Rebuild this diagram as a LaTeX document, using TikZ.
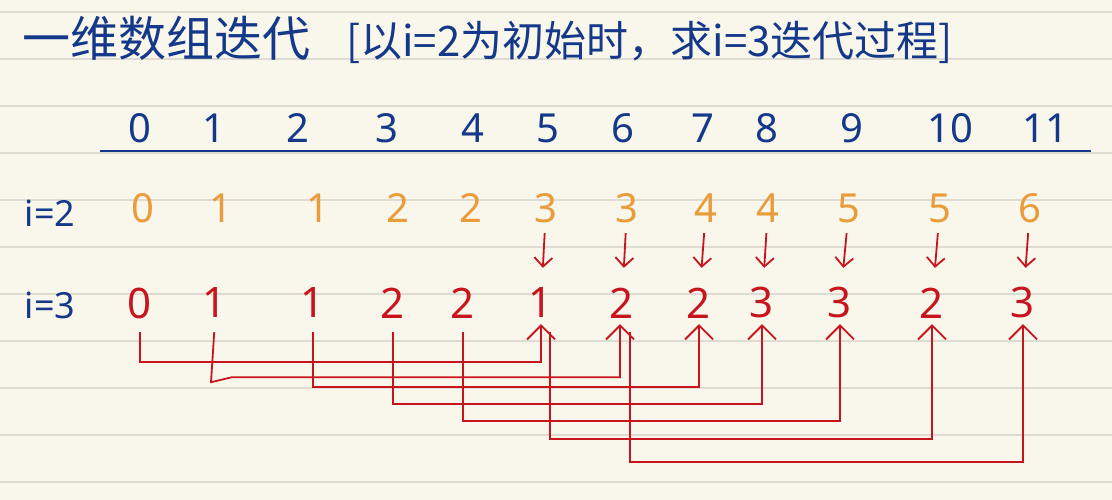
\documentclass[tikz,border=0pt]{standalone}
\usepackage{fontspec}
\setmainfont{Noto Sans}
\newfontfamily\cjk{Noto Sans CJK SC}
\usetikzlibrary{arrows.meta}
\definecolor{paper}{HTML}{F9F7EC}
\definecolor{ruling}{HTML}{DDDBD2}
\definecolor{ink}{HTML}{14398A}
\definecolor{amber}{HTML}{EA9B3A}
\definecolor{crimson}{HTML}{C8141C}
\begin{document}
\begin{tikzpicture}[x=1pt, y=-1pt,
  idx/.style={text=ink, font=\fontsize{40}{40}\selectfont, inner sep=0pt, minimum height=34pt},
  old/.style={text=amber, font=\fontsize{40}{40}\selectfont, inner sep=0pt, minimum height=34pt},
  new/.style={text=crimson, font=\fontsize{42}{42}\selectfont, inner sep=0pt, minimum height=34pt},
  rowlabel/.style={text=ink, font=\fontsize{36}{36}\selectfont, inner sep=0pt},
  down/.style={draw=crimson, line width=1.8pt, -{Straight Barb[length=9pt,width=18pt]}, shorten <=8pt, shorten >=18pt},
  link/.style={draw=crimson, line width=1.8pt, -{Straight Barb[length=14pt,width=28pt]}, shorten <=12pt, shorten >=4pt}]
  % paper
  \fill[paper] (0,0) rectangle (1112,500);
  \useasboundingbox (0,0) rectangle (1112,500);
  \draw[ruling, line width=1.4pt] (0,12) -- (1112,12) (0,59) -- (1112,59) (0,106) -- (1112,106)
    (0,153) -- (1112,153) (0,200) -- (1112,200) (0,247) -- (1112,247) (0,294) -- (1112,294)
    (0,341) -- (1112,341) (0,388) -- (1112,388) (0,435) -- (1112,435) (0,482) -- (1112,482);
  % title
  \node[anchor=west, text=ink, font=\cjk, inner sep=0pt] (title) at (22,40)
    {{\fontsize{48}{48}\selectfont 一维数组迭代}\hspace{36pt}{\fontsize{42}{42}\selectfont [以i=2为初始时，求i=3迭代过程]}};
  % capacity axis
  \draw[ink, line width=2.5pt] (100,151) -- (1091,151);
  \node[idx] (h0) at (140,128) {0};
  \node[idx] (h1) at (214,128) {1};
  \node[idx] (h2) at (298,128) {2};
  \node[idx] (h3) at (387,128) {3};
  \node[idx] (h4) at (473,128) {4};
  \node[idx] (h5) at (548,128) {5};
  \node[idx] (h6) at (623,128) {6};
  \node[idx] (h7) at (703,128) {7};
  \node[idx] (h8) at (767,128) {8};
  \node[idx] (h9) at (852,128) {9};
  \node[idx] (h10) at (950,128) {10};
  \node[idx] (h11) at (1045,128) {11};
  % row i=2
  \node[rowlabel] (l2) at (50,213) {i=2};
  \node[old] (a0) at (143,208) {0};
  \node[old] (a1) at (221,208) {1};
  \node[old] (a2) at (318,208) {1};
  \node[old] (a3) at (398,208) {2};
  \node[old] (a4) at (471,208) {2};
  \node[old] (a5) at (546,208) {3};
  \node[old] (a6) at (627,208) {3};
  \node[old] (a7) at (706,208) {4};
  \node[old] (a8) at (768,208) {4};
  \node[old] (a9) at (849,208) {5};
  \node[old] (a10) at (940,208) {5};
  \node[old] (a11) at (1030,208) {6};
  % row i=3
  \node[rowlabel] (l3) at (50,305) {i=3};
  \node[new] (b0) at (140,303) {0};
  \node[new] (b1) at (215,303) {1};
  \node[new] (b2) at (313,303) {1};
  \node[new] (b3) at (393,303) {2};
  \node[new] (b4) at (463,303) {2};
  \node[new] (b5) at (541,303) {1};
  \node[new] (b6) at (622,303) {2};
  \node[new] (b7) at (699,303) {2};
  \node[new] (b8) at (762,303) {3};
  \node[new] (b9) at (840,303) {3};
  \node[new] (b10) at (932,303) {2};
  \node[new] (b11) at (1023,303) {3};
  % carry down from i=2
  \draw[down] (a5) -- (b5);
  \draw[down] (a6) -- (b6);
  \draw[down] (a7) -- (b7);
  \draw[down] (a8) -- (b8);
  \draw[down] (a9) -- (b9);
  \draw[down] (a10) -- (b10);
  \draw[down] (a11) -- (b11);
  % add item from j-5
  \draw[link] (b0.south) -- ++(0,42) -| (b5.south);
  \draw[link] (b1.south) -- ++(-4,62) -- ++(21,-5) -| ([xshift=-2pt]b6.south);
  \draw[link] (b2.south) -- ++(0,67) -| (b7.south);
  \draw[link] (b3.south) -- ++(0,84) -| (b8.south);
  \draw[link] (b4.south) -- ++(0,101) -| (b9.south);
  \draw[link] ([xshift=9pt]b5.south) -- ++(0,119) -| (b10.south);
  \draw[link] ([xshift=8pt]b6.south) -- ++(0,142) -| (b11.south);
\end{tikzpicture}
\end{document}
